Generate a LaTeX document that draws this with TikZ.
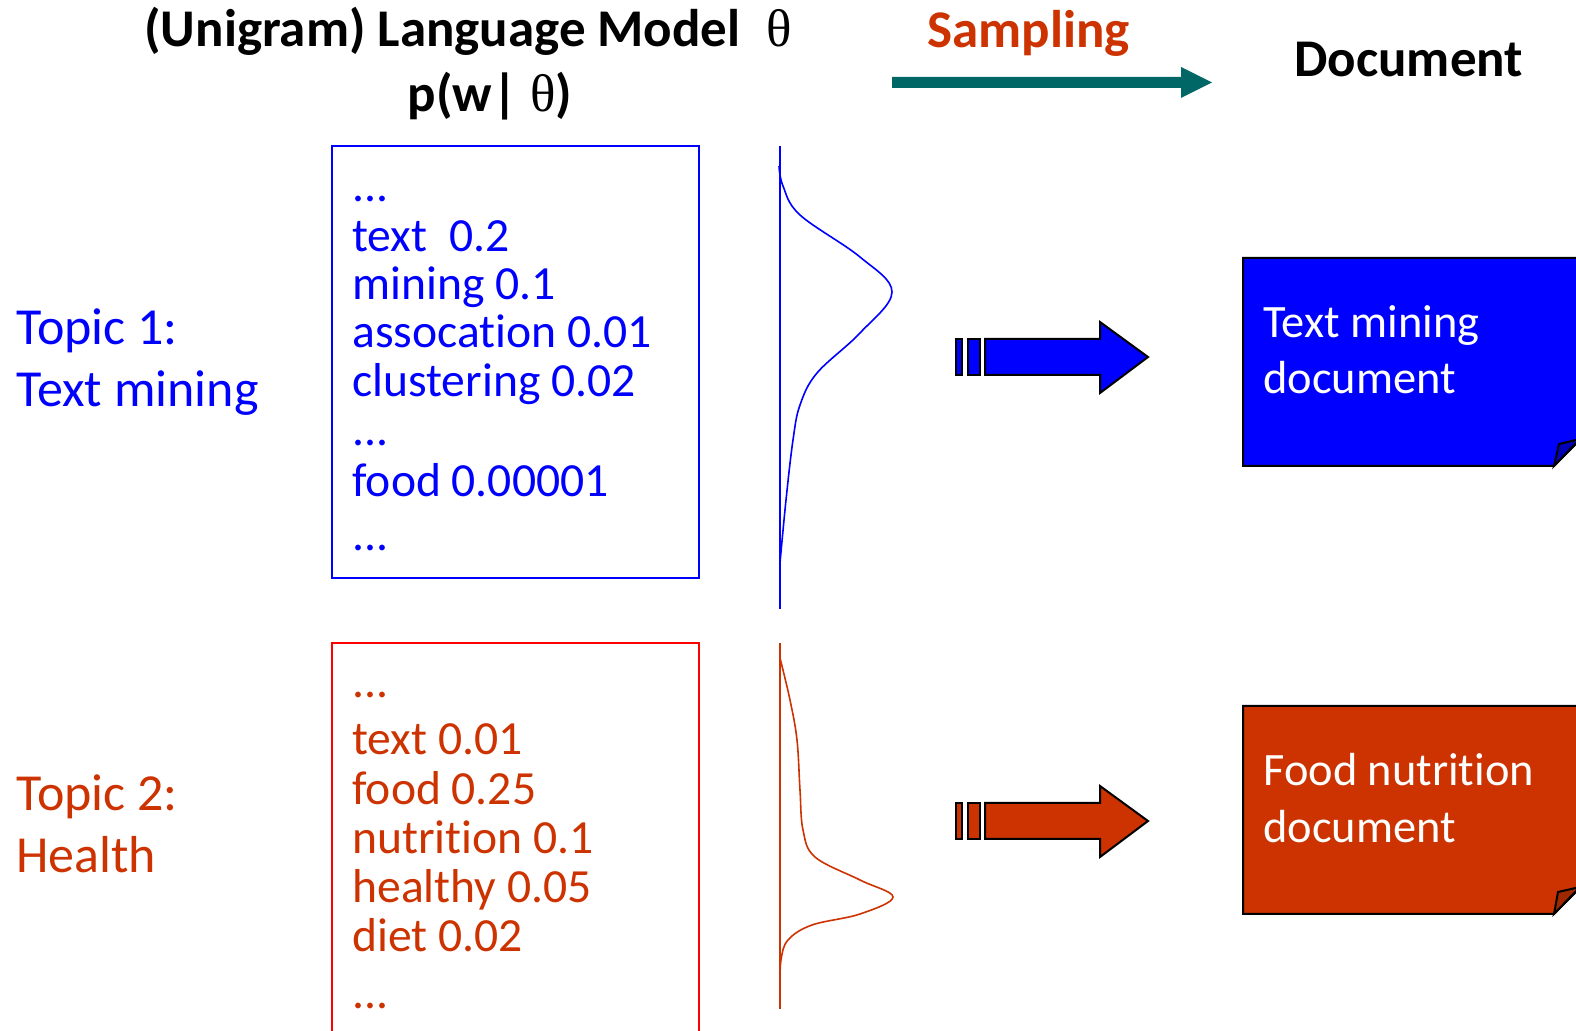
\documentclass[tikz,border=0pt]{standalone}
\usepackage{fontspec}
\setmainfont[Ligatures = NoCommon]{Carlito}
\newfontfamily\thetafont{Liberation Serif}
\definecolor{topicblue}{HTML}{0000FF}
\definecolor{topicred}{HTML}{CC3300}
\definecolor{boxred}{HTML}{FF0000}
\definecolor{samplingteal}{HTML}{006666}
\definecolor{flapblue}{HTML}{0000B8}
\definecolor{flapred}{HTML}{9E2800}
\tikzset{
  heading/.style = {font = \fontsize{26.5}{30}\selectfont\bfseries, inner sep = 0, anchor = base west},
  topic/.style = {font = \fontsize{26}{30}\selectfont, inner sep = 0, anchor = base west},
  word/.style = {font = \fontsize{23.8}{26}\selectfont, inner sep = 0, anchor = base west},
  doctext/.style = {font = \fontsize{23.2}{26}\selectfont, text = white, inner sep = 0, anchor = base west}
}
\begin{document}
\begin{tikzpicture}[x = 0.5pt, y = -0.5pt]
\useasboundingbox (0, 0) rectangle (1576, 1031);
\clip (0, 0) rectangle (1576, 1031);
% headings
\node[heading] (title) at (144, 47) {(Unigram) Language Model\hspace{0.5em}{\thetafont\mdseries θ}};
\node[heading, anchor = base] (ptheta) at (490, 112) {p(w|\hspace{0.25em}{\thetafont\mdseries θ})};
\node[heading, text = topicred] (sampling) at (927, 48) {Sampling};
\node[heading] (document) at (1294, 77) {Document};
\fill[samplingteal] (892, 77) -- (1181, 77) -- (1181, 67) -- (1212, 82.5) -- (1181, 98) -- (1181, 88) -- (892, 88) -- cycle;
% topic 1
\node[topic, text = topicblue] (topic1) at (16, 345) {Topic 1:};
\node[topic, text = topicblue] (topic1name) at (16, 407) {Text mining};
\draw[topicblue, line width = 1pt] (332, 146) rectangle (699, 578);
\node[word, text = topicblue] (w11) at (352, 202) {...};
\node[word, text = topicblue] (w12) at (352, 252) {text\ \ 0.2};
\node[word, text = topicblue] (w13) at (352, 300) {mining 0.1};
\node[word, text = topicblue] (w14) at (352, 348) {assocation 0.01};
\node[word, text = topicblue] (w15) at (352, 397) {clustering 0.02};
\node[word, text = topicblue] (w16) at (352, 446) {...};
\node[word, text = topicblue] (w17) at (352, 497) {food 0.00001};
\node[word, text = topicblue] (w18) at (352, 551) {...};
\draw[topicblue, line width = 1pt] (780, 146) -- (780, 609);
\draw[topicblue, line width = 0.8pt] plot[smooth, tension = 0.6] coordinates {(779, 166) (783, 186) (800, 215) (860, 257) (892, 292) (860, 333) (817, 373) (800, 405) (793, 440) (786, 500) (780, 563)};
\fill[topicblue, draw = black, line width = 1pt] (956, 339) rectangle (962, 375);
\fill[topicblue, draw = black, line width = 1pt] (968, 339) rectangle (980, 375);
\fill[topicblue, draw = black, line width = 1pt] (985, 339) -- (1100, 339) -- (1100, 322) -- (1148, 357) -- (1100, 393) -- (1100, 375) -- (985, 375) -- cycle;
\fill[topicblue, draw = black, line width = 1pt] (1243, 258) -- (1610, 258) -- (1610, 410) -- (1554, 466) -- (1243, 466) -- cycle;
\fill[flapblue, draw = black, line width = 1pt] (1554, 466) -- (1559, 444) -- (1580, 439) -- cycle;
\node[doctext] (doc1a) at (1263, 338) {Text mining};
\node[doctext] (doc1b) at (1263, 394) {document};
% topic 2
\node[topic, text = topicred] (topic2) at (16, 811) {Topic 2:};
\node[topic, text = topicred] (topic2name) at (16, 873) {Health};
\draw[boxred, line width = 1pt] (332, 1060) -- (332, 643) -- (699, 643) -- (699, 1060);
\node[word, text = topicred] (w21) at (352, 698) {...};
\node[word, text = topicred] (w22) at (352, 755) {text 0.01};
\node[word, text = topicred] (w23) at (352, 805) {food 0.25};
\node[word, text = topicred] (w24) at (352, 854) {nutrition 0.1};
\node[word, text = topicred] (w25) at (352, 903) {healthy 0.05};
\node[word, text = topicred] (w26) at (352, 951) {diet 0.02};
\node[word, text = topicred] (w27) at (352, 1008) {...};
\draw[topicred, line width = 1pt] (780, 643) -- (780, 1009);
\draw[topicred, line width = 0.8pt] plot[smooth, tension = 0.6] coordinates {(780, 658) (790, 700) (797, 740) (800, 790) (803, 830) (815, 857) (860, 880) (893, 897) (860, 914) (812, 925) (788, 940) (781, 960) (780, 985)};
\fill[topicred, draw = black, line width = 1pt] (956, 803) rectangle (962, 839);
\fill[topicred, draw = black, line width = 1pt] (968, 803) rectangle (980, 839);
\fill[topicred, draw = black, line width = 1pt] (985, 803) -- (1100, 803) -- (1100, 786) -- (1148, 821) -- (1100, 857) -- (1100, 839) -- (985, 839) -- cycle;
\fill[topicred, draw = black, line width = 1pt] (1243, 706) -- (1610, 706) -- (1610, 858) -- (1554, 914) -- (1243, 914) -- cycle;
\fill[flapred, draw = black, line width = 1pt] (1554, 914) -- (1558, 892) -- (1580, 887) -- cycle;
\node[doctext] (doc2a) at (1263, 786) {Food nutrition};
\node[doctext] (doc2b) at (1263, 843) {document};
\end{tikzpicture}
\end{document}
